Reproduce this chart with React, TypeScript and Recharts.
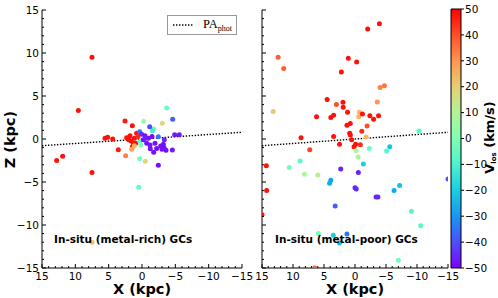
import React from 'react';
import { ScatterChart, BarChart, Bar, Scatter, XAxis, YAxis, ReferenceLine } from 'recharts';

// positions in kpc, [X, Z, V_los km/s]
const METAL_RICH: [number, number, number][] = [
  [7.5, 9.5, 48], [9.55, 3.3, 48], [2.55, 2.1, 47], [1.45, 1.55, 48],
  [12.8, -2.5, 48], [11.9, -2.0, 48], [7.5, -3.9, 48], [3.55, -1.25, 47],
  [5.55, 0.08, 48], [5.15, 0.2, 48], [4.4, 0.0, 48], [2.3, 0.15, 48],
  [1.8, 0.38, 48], [1.15, 0.08, 48], [0.8, 0.66, 48], [0.95, -0.5, 48],
  [1.45, -0.9, 48], [1.65, -0.23, 48], [2.0, -0.1, 48], [0.6, 0.3, 45],
  [1.3, -0.5, 48],
  [2.45, -1.95, 33], [1.55, -1.2, 28], [1.15, -0.78, 25], [7.5, -12.0, 22],
  [-0.25, 2.05, 5], [-3.05, 1.83, 18], [0.35, -2.3, -2], [-0.5, -2.6, 18],
  [0.5, -5.6, -5], [-3.7, 3.6, -5], [-1.75, 1.16, -5], [-1.55, 0.97, -12],
  [0.3, -0.3, -5], [0.2, -0.7, 0],
  [-4.6, 2.3, -38], [-1.15, 1.43, -40], [0.35, 0.85, -35], [-2.45, 0.27, -35],
  [-4.9, 0.5, -47], [-5.6, 0.5, -47], [-3.35, -0.1, -45], [-2.45, -3.05, -48],
  [-1.25, -1.13, -48], [-1.75, -1.55, -48], [-4.55, -1.28, -47], [-3.0, -1.2, -48],
  [-3.3, -1.0, -48], [-3.6, -1.3, -48], [-2.8, -0.8, -48], [-3.2, -0.6, -48],
  [0.05, 0.55, -45], [-0.45, 0.38, -48], [-0.95, 0.08, -48], [-0.2, -0.1, -48],
  [-0.7, -0.5, -48], [-1.2, -0.7, -48], [-1.95, -0.5, -48], [-2.2, -1.1, -48],
  [-0.5, 0.1, -46], [-1.5, 0.3, -48],
];

const METAL_POOR: [number, number, number][] = [
  [-3.94, 13.4, 48], [-2.05, 12.8, 48], [12.4, 9.5, 38], [11.5, 8.2, 38],
  [1.08, 9.4, 48], [-0.27, 8.95, 48], [2.2, 7.8, 48], [-4.05, 6.0, 33],
  [-4.75, 6.2, 35], [4.5, 4.6, 48], [3.0, 4.0, 40], [1.94, 4.26, 48],
  [1.9, 3.7, 48], [13.2, 3.2, 22], [6.2, 2.6, 48], [3.9, 2.5, 48],
  [3.45, 2.75, 48], [1.2, 3.1, 48], [-0.7, 3.1, 25], [-0.6, 2.6, 25],
  [-1.2, 2.9, 48], [-2.4, 2.7, 48], [-3.0, 2.3, 48], [-3.8, 2.7, 48],
  [-3.6, 4.3, 30], [-1.95, 1.5, 40], [-1.1, 0.9, 45], [1.3, 1.6, 48],
  [0.76, 1.8, 48], [0.86, 0.66, 48], [0.76, 0.47, 48], [3.45, 0.3, 48],
  [8.7, 0.15, 48], [2.5, -0.6, 48], [0.54, -0.1, 48], [0.16, -0.9, 48],
  [-0.1, -0.6, 48], [-0.86, -0.66, 45], [-1.8, 0.23, 25], [7.3, -1.24, 42],
  [-0.2, -1.36, 8], [-2.3, -1.1, -5], [-0.5, -2.1, 10], [-5.6, -0.9, -22],
  [-5.1, -1.4, -8], [-10.3, 0.93, -8], [14.3, -3.1, 48], [8.85, -2.56, -8],
  [10.6, -3.3, -3], [8.15, -4.1, 8], [6.0, -4.2, 12], [2.3, -3.5, -46],
  [-0.54, -3.9, -46], [-1.35, -2.9, -20], [3.9, -4.8, -28], [4.1, -5.15, -25],
  [0.0, -5.66, -45], [-0.2, -5.8, -45], [14.25, -6.0, 48], [-6.3, -6.0, -25],
  [-7.2, -5.4, -22], [-3.4, -6.75, -45], [-3.7, -6.75, -45], [3.2, -7.8, -38],
  [-9.1, -8.4, -8], [-10.6, -10.1, -8], [5.9, -11.0, -3], [3.5, -11.2, -20],
  [1.3, -11.05, -35], [2.5, -12.1, -22], [-7.0, -14.1, -3], [6.5, -15.0, 38],
  [15.0, -8.8, 48], [-15.0, -4.65, -40],
];

const PA_LINE = [{ x: 15, z: -0.78 }, { x: -15, z: 0.78 }];
const ALL_TICKS = Array.from({ length: 31 }, (_, i) => 15 - i);
const CBAR_TICKS = [-50, -40, -30, -20, -10, 0, 10, 20, 30, 40, 50];
const CBAR = [{ name: 'vlos', range: [-50, 50] }];

// matplotlib "rainbow", vmin -50 / vmax 50
function rainbow(v: number): string {
  const t = Math.min(1, Math.max(0, (v + 50) / 100));
  const r = Math.min(1, Math.abs(2 * t - 0.5));
  const g = Math.sin(t * Math.PI);
  const b = Math.cos((t * Math.PI) / 2);
  return `rgb(${Math.round(r * 255)},${Math.round(g * 255)},${Math.round(b * 255)})`;
}

const fmt = (v: number) => (v < 0 ? `\u2212${-v}` : `${v}`);
const major = (v: number) => v % 5 === 0;
const FONT = 'DejaVu Sans, sans-serif';

const tickBottom = (p: any) => {
  const v = p.payload.value;
  return (
    <g>
      <line x1={p.x} x2={p.x} y1={p.y} y2={p.y - (major(v) ? 4 : 2)} stroke="#000" />
      {major(v) && (
        <text x={p.x} y={p.y + 12} textAnchor="middle" fontSize={10.5} fontFamily={FONT} fill="#000">{fmt(v)}</text>
      )}
    </g>
  );
};
const tickTop = (p: any) => (
  <line x1={p.x} x2={p.x} y1={p.y} y2={p.y + (major(p.payload.value) ? 4 : 2)} stroke="#000" />
);
const tickLeft = (label: boolean) => (p: any) => {
  const v = p.payload.value;
  return (
    <g>
      <line x1={p.x} x2={p.x + (major(v) ? 4 : 2)} y1={p.y} y2={p.y} stroke="#000" />
      {label && major(v) && (
        <text x={p.x - 3} y={p.y + 4} textAnchor="end" fontSize={10.5} fontFamily={FONT} fill="#000">{fmt(v)}</text>
      )}
    </g>
  );
};
const tickRight = (p: any) => (
  <line x1={p.x} x2={p.x - (major(p.payload.value) ? 4 : 2)} y1={p.y} y2={p.y} stroke="#000" />
);

const dot = (p: any) => <circle cx={p.cx} cy={p.cy} r={2.5} fill={rainbow(p.payload.v)} />;

function Panel({ data, width, yWidth, marginRight, yLabels }: any) {
  const pts = data.map(([x, z, v]: number[]) => ({ x, z, v }));
  return (
    <ScatterChart width={width} height={298} margin={{ top: 10, right: marginRight, bottom: 0, left: 0 }}>
      <XAxis type="number" dataKey="x" domain={[-15, 15]} reversed allowDataOverflow ticks={ALL_TICKS} interval={0}
             height={30} tickSize={0} tickMargin={0} tickLine={false} axisLine={{ stroke: '#000' }} tick={tickBottom} />
      <XAxis xAxisId="top" orientation="top" type="number" domain={[-15, 15]} reversed ticks={ALL_TICKS} interval={0}
             height={0} tickSize={0} tickMargin={0} tickLine={false} axisLine={{ stroke: '#000' }} tick={tickTop} />
      <YAxis type="number" dataKey="z" domain={[-15, 15]} allowDataOverflow ticks={ALL_TICKS} interval={0}
             width={yWidth} tickSize={0} tickMargin={0} tickLine={false} axisLine={{ stroke: '#000' }} tick={tickLeft(yLabels)} />
      <YAxis yAxisId="right" orientation="right" type="number" domain={[-15, 15]} ticks={ALL_TICKS} interval={0}
             width={0} tickSize={0} tickMargin={0} tickLine={false} axisLine={{ stroke: '#000' }} tick={tickRight} />
      <ReferenceLine segment={[{ x: PA_LINE[0].x, y: PA_LINE[0].z }, { x: PA_LINE[1].x, y: PA_LINE[1].z }]}
                     stroke="#000" strokeWidth={1.4} strokeDasharray="1.4 1.6" ifOverflow="hidden" />
      <Scatter data={pts} isAnimationActive={false} shape={dot} />
    </ScatterChart>
  );
}

const abs = (left: number, top: number, extra: any = {}) => ({ position: 'absolute' as const, left, top, ...extra });
const axisLabel = { fontWeight: 'bold', fontSize: 14.5, lineHeight: '15px', whiteSpace: 'nowrap' as const, textAlign: 'center' as const };

export default function App() {
  const grad = CBAR_TICKS.map((v, i) => ({ off: i / (CBAR_TICKS.length - 1), c: rainbow(v) }));
  return (
    <div style={{ position: 'absolute', left: 0, top: 0, width: 498, height: 298, background: '#fff', fontFamily: FONT, overflow: 'hidden' }}>
      <div style={abs(0, 0)}>
        <Panel data={METAL_RICH} width={260} yWidth={42} marginRight={18} yLabels />
      </div>
      <div style={abs(250, 0)}>
        <Panel data={METAL_POOR} width={212} yWidth={12} marginRight={14} yLabels={false} />
      </div>
      <div style={abs(440, 0)}>
        <BarChart width={58} height={298} data={CBAR} margin={{ top: 9, right: 0, bottom: 30, left: 11 }}
                  barCategoryGap={0}>
          <defs>
            <linearGradient id="vlos" x1="0" y1="1" x2="0" y2="0">
              {grad.map((g) => <stop key={g.off} offset={g.off} stopColor={g.c} />)}
            </linearGradient>
          </defs>
          <XAxis dataKey="name" hide />
          <YAxis orientation="right" type="number" domain={[-50, 50]} ticks={CBAR_TICKS} interval={0} width={37}
                 tickSize={3} tickMargin={1} tickFormatter={fmt} axisLine={false} tickLine={{ stroke: '#000' }}
                 tick={{ fill: '#000', fontSize: 10.5, fontFamily: FONT }} />
          <Bar dataKey="range" fill="url(#vlos)" stroke="#000" strokeWidth={1} isAnimationActive={false} />
        </BarChart>
      </div>

      {/* legend */}
      <div style={abs(167, 15, { width: 68, height: 18, border: '1px solid #999', background: '#fff', display: 'flex', alignItems: 'center' })}>
        <svg width={24} height={6} style={{ marginLeft: 4 }}>
          <line x1={1} x2={22} y1={3} y2={3} stroke="#000" strokeWidth={1.4} strokeDasharray="1.4 1.6" />
        </svg>
        <span style={{ marginLeft: 7, fontFamily: 'Liberation Serif, serif', fontSize: 12.5 }}>
          PA<sub style={{ fontSize: 8, verticalAlign: -3 }}>phot</sub>
        </span>
      </div>

      <div style={abs(54, 232, { fontWeight: 'bold', fontSize: 10.5, lineHeight: '14px', whiteSpace: 'nowrap' })}>In-situ (metal-rich) GCs</div>
      <div style={abs(275, 232, { fontWeight: 'bold', fontSize: 10.5, lineHeight: '14px', whiteSpace: 'nowrap' })}>In-situ (metal-poor) GCs</div>

      <div style={abs(92, 282, { ...axisLabel, width: 100 })}>X (kpc)</div>
      <div style={abs(305, 282, { ...axisLabel, width: 100 })}>X (kpc)</div>
      <div style={abs(-40, 132, { ...axisLabel, width: 100, height: 15, transform: 'rotate(-90deg)' })}>Z (kpc)</div>
      <div style={abs(439, 131, { ...axisLabel, fontSize: 13, lineHeight: '13px', width: 100, height: 13, transform: 'rotate(-90deg)' })}>
        V<sub style={{ fontSize: 7, verticalAlign: -2, lineHeight: '7px' }}>los</sub> (km/s)
      </div>
    </div>
  );
}
